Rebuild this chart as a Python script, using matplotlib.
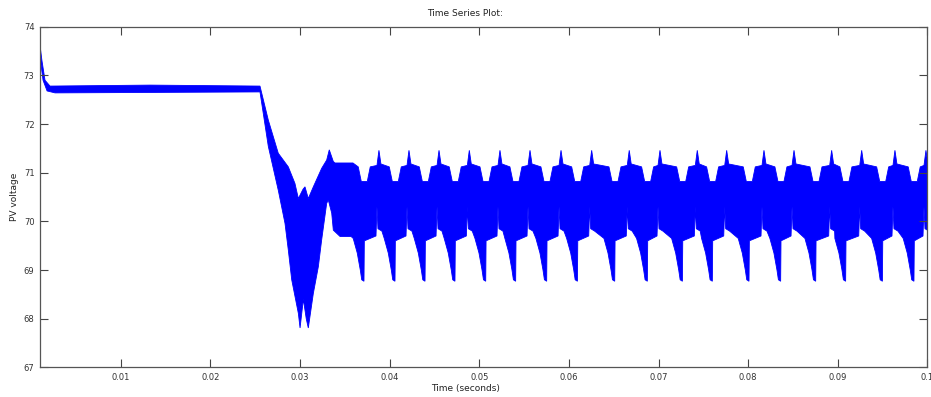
import numpy as np
import matplotlib
matplotlib.use('Agg')
from matplotlib import pyplot as pl

# x ticks / y ticks
xticks = [0.01, 0.02, 0.03, 0.04, 0.05, 0.06, 0.07, 0.08, 0.09, 0.1]
xticklabels = ['0.01', '0.02', '0.03', '0.04', '0.05', '0.06', '0.07', '0.08', '0.09', '0.1']
yticks = [67, 68, 69, 70, 71, 72, 73, 74]

# start-up + step transient, upper / lower edge of the band
trans_up_t = [0.00100, 0.00122, 0.00156, 0.00212, 0.01330, 0.02554, 0.02647, 0.02758,
              0.02870, 0.02944, 0.02982, 0.03034, 0.03056, 0.03093, 0.03149, 0.03242,
              0.03298, 0.03327, 0.03372, 0.03391, 0.03591]
trans_up_v = [73.62, 73.30, 72.90, 72.78, 72.80, 72.78, 72.08, 71.40,
              71.12, 70.78, 70.47, 70.66, 70.71, 70.47, 70.71, 71.09,
              71.26, 71.47, 71.23, 71.20, 71.20]
trans_lo_t = [0.00100, 0.00134, 0.00179, 0.00268, 0.02554, 0.02647, 0.02758, 0.02833,
              0.02870, 0.02908, 0.02982, 0.03001, 0.03038, 0.03070, 0.03093, 0.03149,
              0.03205, 0.03242, 0.03298, 0.03316, 0.03354, 0.03372, 0.03447, 0.03570]
trans_lo_v = [73.38, 72.90, 72.68, 72.64, 72.66, 71.54, 70.64, 69.96,
              69.41, 68.80, 68.11, 67.81, 68.40, 68.00, 67.81, 68.52,
              69.07, 69.62, 70.37, 70.44, 70.17, 69.82, 69.69, 69.69]

# times of the deep lower dips and of the upper spikes in the periodic part
dip_t = [0.03706, 0.04052, 0.04387, 0.04721, 0.05064, 0.05398, 0.05744, 0.06087, 0.06503,
         0.06867, 0.07258, 0.07592, 0.08001, 0.08354, 0.08745, 0.09079, 0.09489, 0.09841]
peak_t = [0.03881, 0.04216, 0.04551, 0.04889, 0.05231, 0.05566, 0.05912, 0.06254, 0.06673,
          0.07016, 0.07432, 0.07760, 0.08176, 0.08511, 0.08931, 0.09266, 0.09637, 0.09983]

# shape of one ripple cycle (offset in s from the dip / spike, voltage)
up_dip_dt = [-0.00056, -0.00022, 0.00045, 0.00078]
up_dip_v = [71.12, 70.82, 70.82, 71.12]
up_peak_dt = [-0.00022, 0.0, 0.00022]
up_peak_v = [71.15, 71.46, 71.18]
lo_dip_dt = [-0.00112, -0.00067, -0.00033, -0.00017, 0.00008, 0.00012]
lo_dip_v = [69.65, 69.35, 69.00, 68.80, 68.77, 69.60]
lo_peak_dt = [-0.00033, -0.00022, -0.00011, 0.00033]
lo_peak_v = [69.70, 70.30, 69.85, 69.80]


def edge(t0, v0, dip_dt, dip_v, pk_dt, pk_v):
    t = list(t0)
    v = list(v0)
    for d, p in zip(dip_t, peak_t):
        t += [d + i for i in dip_dt] + [p + i for i in pk_dt]
        v += list(dip_v) + list(pk_v)
    return np.array(t), np.array(v)


tu, vu = edge(trans_up_t, trans_up_v, up_dip_dt, up_dip_v, up_peak_dt, up_peak_v)
tl, vl = edge(trans_lo_t, trans_lo_v, lo_dip_dt, lo_dip_v, lo_peak_dt, lo_peak_v)

fig = pl.figure(figsize=(9.31, 3.97), dpi=100)
ax = fig.add_axes([0.04296, 0.07456, 0.95327, 0.85819])

ax.fill(np.concatenate([tu, tl[::-1]]), np.concatenate([vu, vl[::-1]]),
        color='#0000ff', linewidth=0.6, edgecolor='#0000ff')

ax.set_xlim(0.001, 0.1)
ax.set_ylim(67, 74)
ax.set_xticks(xticks)
ax.set_xticklabels(xticklabels)
ax.set_yticks(yticks)
ax.tick_params(direction='in', length=6, width=0.8, color='#444444',
               labelsize=6, labelcolor='#333333', top=True, right=True, pad=4)
for s in ax.spines.values():
    s.set_color('#555555')
    s.set_linewidth(0.9)

fig.text(0.5, 0.965, 'Time Series Plot:', ha='center', va='center',
         fontsize=6.5, color='#222222')
fig.text(0.5, 0.022, 'Time (seconds)', ha='center', va='center',
         fontsize=6.5, color='#222222')
fig.text(0.016, 0.503, 'PV voltage', ha='center', va='center', rotation=90,
         fontsize=6.5, color='#222222')

fig.savefig('out.png', dpi=100)
